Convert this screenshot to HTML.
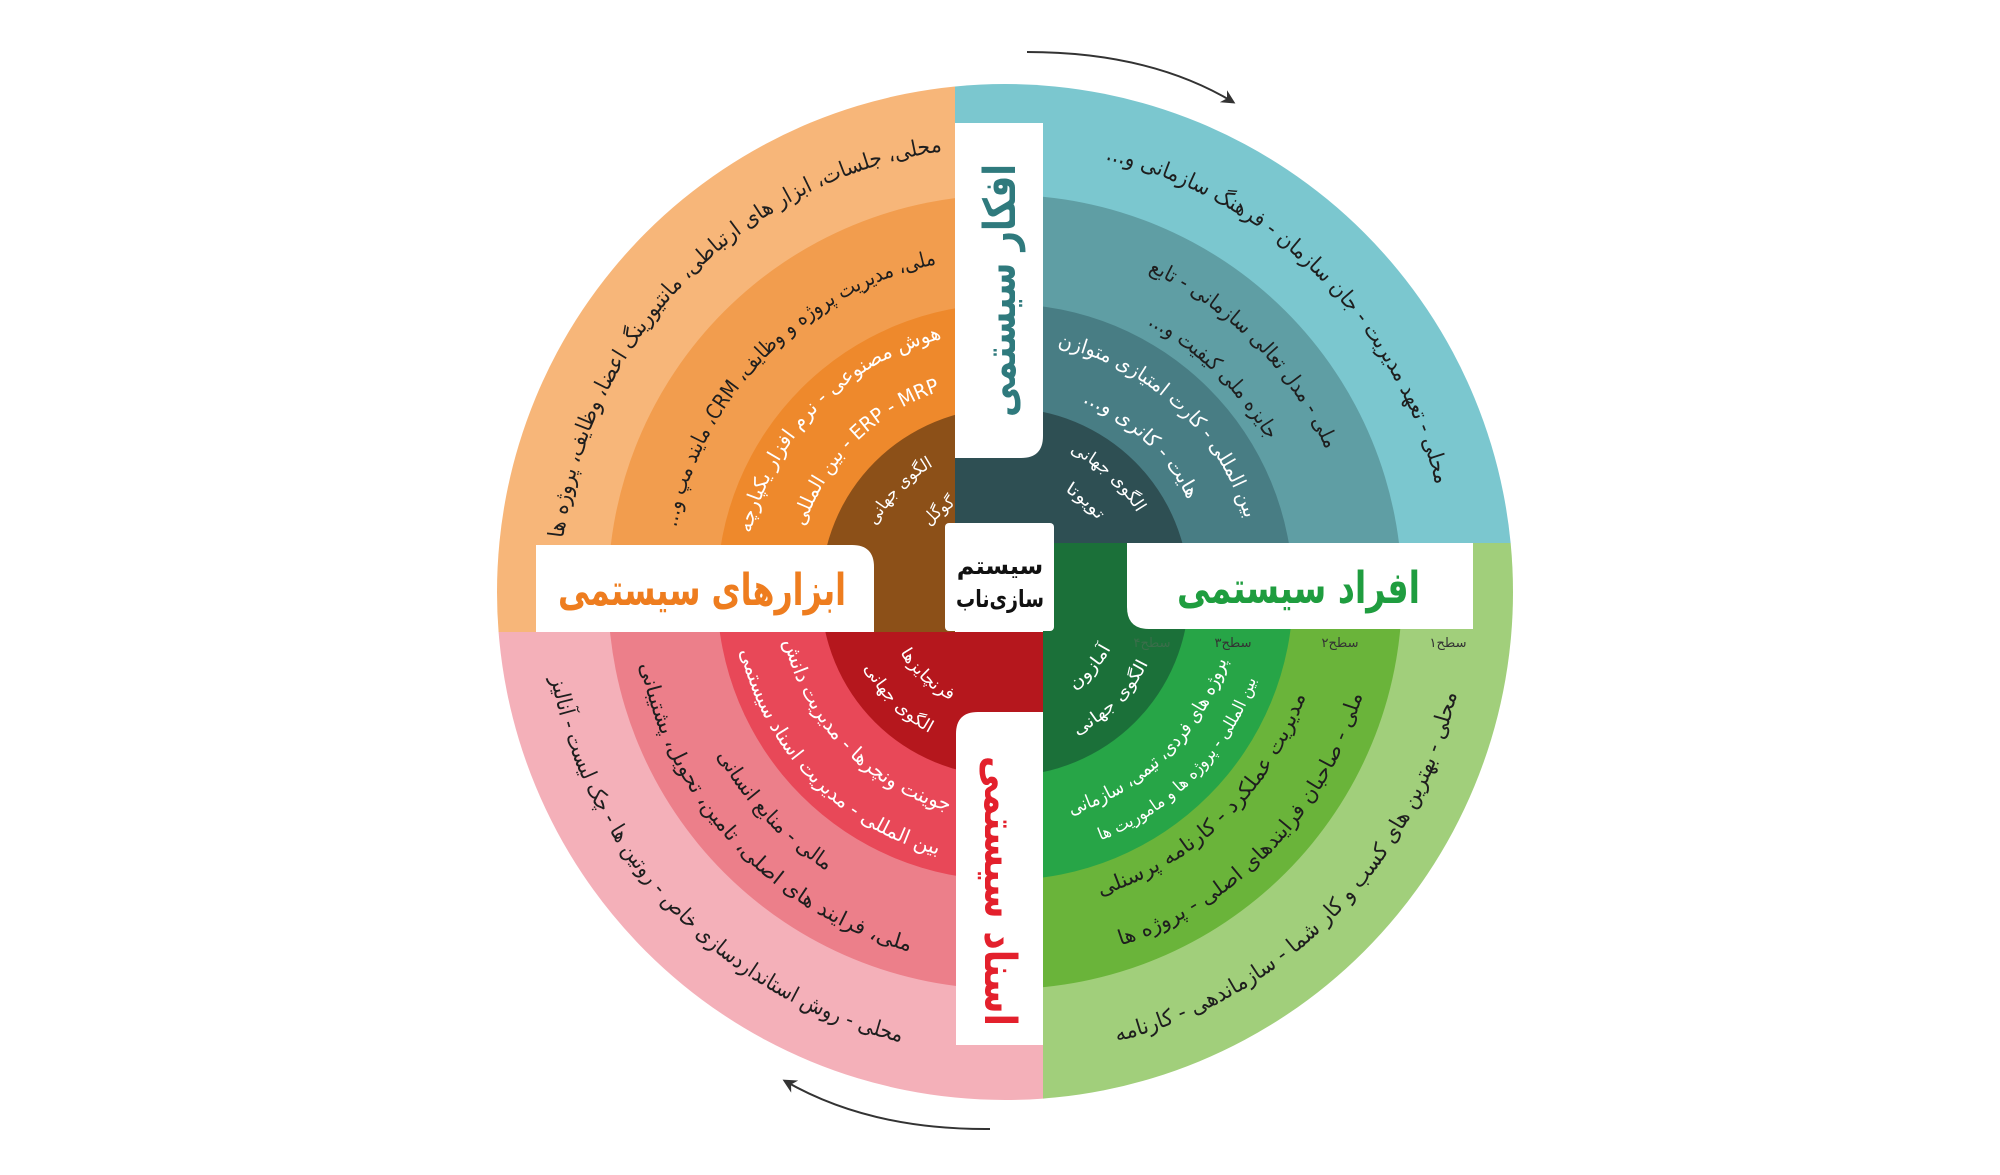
<!DOCTYPE html>
<html><head><meta charset="utf-8"><style>
html,body{margin:0;padding:0;background:#fff;}
svg{display:block;}
text{font-family:"DejaVu Sans","Liberation Sans",sans-serif;}
.dk{fill:#1e1e1e;}
.wt{fill:#fff;}
</style></head><body>
<svg width="2000" height="1175" viewBox="0 0 2000 1175" xmlns="http://www.w3.org/2000/svg">
<defs>
<clipPath id="cTL"><rect x="0" y="0" width="955" height="632"/></clipPath>
<clipPath id="cTR"><rect x="955" y="0" width="1045" height="543"/></clipPath>
<clipPath id="cBR"><rect x="1043" y="543" width="957" height="632"/></clipPath>
<clipPath id="cBL"><rect x="0" y="632" width="1043" height="543"/></clipPath>
<marker id="ah" viewBox="0 0 10 10" refX="8" refY="5" markerWidth="7" markerHeight="7" orient="auto"><path d="M0,0 L10,5 L0,10 L3,5 z" fill="#333"/></marker>
<path id="t1" d="M1450,592 A445,445 0 1 1 560,592 A445,445 0 1 1 1450,592"/>
<path id="t2" d="M1340,592 A335,335 0 1 1 670,592 A335,335 0 1 1 1340,592"/>
<path id="t3" d="M1266,592 A261,261 0 1 1 744,592 A261,261 0 1 1 1266,592"/>
<path id="t4" d="M1216,592 A211,211 0 1 1 794,592 A211,211 0 1 1 1216,592"/>
<path id="t5" d="M1150,592 A145,145 0 1 1 860,592 A145,145 0 1 1 1150,592"/>
<path id="t6" d="M1105,592 A100,100 0 1 1 905,592 A100,100 0 1 1 1105,592"/>
<path id="t7" d="M1449,592 A444,444 0 1 1 561,592 A444,444 0 1 1 1449,592"/>
<path id="t8" d="M1356,592 A351,351 0 1 1 654,592 A351,351 0 1 1 1356,592"/>
<path id="t9" d="M1308,592 A303,303 0 1 1 702,592 A303,303 0 1 1 1308,592"/>
<path id="t10" d="M1256,592 A251,251 0 1 1 754,592 A251,251 0 1 1 1256,592"/>
<path id="t11" d="M1210,592 A205,205 0 1 1 800,592 A205,205 0 1 1 1210,592"/>
<path id="t12" d="M1159,592 A154,154 0 1 1 851,592 A154,154 0 1 1 1159,592"/>
<path id="t13" d="M1122,592 A117,117 0 1 1 888,592 A117,117 0 1 1 1122,592"/>
<path id="b14" d="M1468,592 A463,463 0 1 0 542,592 A463,463 0 1 0 1468,592"/>
<path id="b15" d="M1377,592 A372,372 0 1 0 633,592 A372,372 0 1 0 1377,592"/>
<path id="b16" d="M1323,592 A318,318 0 1 0 687,592 A318,318 0 1 0 1323,592"/>
<path id="b17" d="M1271,592 A266,266 0 1 0 739,592 A266,266 0 1 0 1271,592"/>
<path id="b18" d="M1237,592 A232,232 0 1 0 773,592 A232,232 0 1 0 1237,592"/>
<path id="b19" d="M1165,592 A160,160 0 1 0 845,592 A160,160 0 1 0 1165,592"/>
<path id="b20" d="M1125,592 A120,120 0 1 0 885,592 A120,120 0 1 0 1125,592"/>
<path id="b21" d="M1467,592 A462,462 0 1 0 543,592 A462,462 0 1 0 1467,592"/>
<path id="b23" d="M1336,592 A331,331 0 1 0 674,592 A331,331 0 1 0 1336,592"/>
<path id="b24" d="M1276,592 A271,271 0 1 0 734,592 A271,271 0 1 0 1276,592"/>
<path id="b25" d="M1231,592 A226,226 0 1 0 779,592 A226,226 0 1 0 1231,592"/>
<path id="b27" d="M1126,592 A121,121 0 1 0 884,592 A121,121 0 1 0 1126,592"/>
</defs>

<path d="M1027,52 Q1150,52 1233,102" fill="none" stroke="#333" stroke-width="2" marker-end="url(#ah)"/>
<path d="M990,1129 Q870,1130 785,1081" fill="none" stroke="#333" stroke-width="2" marker-end="url(#ah)"/>

<g clip-path="url(#cTL)">
<circle cx="1005" cy="592" r="508" fill="#f7b679"/>
<circle cx="1005" cy="592" r="397" fill="#f29d4e"/>
<circle cx="1005" cy="592" r="288" fill="#ee892c"/>
<circle cx="1005" cy="592" r="184" fill="#8c5018"/>
</g>
<g clip-path="url(#cTR)">
<circle cx="1005" cy="592" r="508" fill="#7bc7cf"/>
<circle cx="1005" cy="592" r="397" fill="#5f9ea4"/>
<circle cx="1005" cy="592" r="288" fill="#487d84"/>
<circle cx="1005" cy="592" r="184" fill="#2e4f53"/>
</g>
<g clip-path="url(#cBR)">
<circle cx="1005" cy="592" r="508" fill="#a1cf7b"/>
<circle cx="1005" cy="592" r="397" fill="#6ab43a"/>
<circle cx="1005" cy="592" r="288" fill="#27a547"/>
<circle cx="1005" cy="592" r="184" fill="#1b7039"/>
</g>
<g clip-path="url(#cBL)">
<circle cx="1005" cy="592" r="508" fill="#f4b0b9"/>
<circle cx="1005" cy="592" r="397" fill="#ec7f8a"/>
<circle cx="1005" cy="592" r="288" fill="#e84858"/>
<circle cx="1005" cy="592" r="184" fill="#b5171d"/>
</g>

<path d="M955,123 H1043 V436 Q1043,458 1021,458 H955 Z" fill="#fff"/>
<path d="M1127,543 H1473 V629 H1149 Q1127,629 1127,607 Z" fill="#fff"/>
<path d="M536,545 H852 Q874,545 874,567 V632 H536 Z" fill="#fff"/>
<path d="M978,712 H1043 V1045 H956 V734 Q956,712 978,712 Z" fill="#fff"/>
<rect x="945" y="523" width="109" height="108" rx="4" fill="#fff"/>

<text x="1000" y="574" text-anchor="middle" font-size="24" font-weight="bold" fill="#111">سیستم</text>
<text x="1000" y="607" text-anchor="middle" font-size="24" font-weight="bold" fill="#111" textLength="88" lengthAdjust="spacingAndGlyphs">سازی‌ناب</text>

<text x="1177" y="603" font-size="44" font-weight="bold" fill="#1f9d3f" textLength="243" lengthAdjust="spacingAndGlyphs">افراد سیستمی</text>
<text x="558" y="605" font-size="44" font-weight="bold" fill="#ee7d1f" textLength="288" lengthAdjust="spacingAndGlyphs">ابزارهای سیستمی</text>
<text transform="translate(1015,417) rotate(-90)" x="0" y="0" font-size="44" font-weight="bold" fill="#2f7a7d" textLength="253" lengthAdjust="spacingAndGlyphs">افکار سیستمی</text>
<text transform="translate(985,756) rotate(90)" x="0" y="0" font-size="44" font-weight="bold" fill="#e3202c" textLength="270" lengthAdjust="spacingAndGlyphs">اسناد سیستمی</text>

<g font-size="13" fill="#333" text-anchor="middle">
<text x="1448" y="647">سطح۱</text>
<text x="1340" y="647">سطح۲</text>
<text x="1233" y="647">سطح۳</text>
<text x="1152" y="647" fill="#3a6e4a">سطح۴</text>
</g>

<text class="dk" font-size="22"><textPath href="#t1" startOffset="1452" textLength="582" lengthAdjust="spacingAndGlyphs">&#x202B;محلی، جلسات، ابزار های ارتباطی، مانتیورینگ اعضا، وظایف، پروژه ها&#x202C;</textPath></text>
<text class="dk" font-size="21"><textPath href="#t2" startOffset="1117" textLength="392" lengthAdjust="spacingAndGlyphs">&#x202B;ملی، مدیریت پروژه و وظایف، CRM، مایند مپ و...&#x202C;</textPath></text>
<text class="wt" font-size="20"><textPath href="#t3" startOffset="879" textLength="287" lengthAdjust="spacingAndGlyphs">&#x202B;هوش مصنوعی - نرم افزار یکپارچه&#x202C;</textPath></text>
<text class="wt" font-size="20"><textPath href="#t4" startOffset="729" textLength="199" lengthAdjust="spacingAndGlyphs">بین المللی - ERP - MRP</textPath></text>
<text class="wt" font-size="17"><textPath href="#t5" startOffset="524" textLength="84" lengthAdjust="spacingAndGlyphs">الگوی جهانی</textPath></text>
<text class="wt" font-size="17"><textPath href="#t6" startOffset="385" textLength="34" lengthAdjust="spacingAndGlyphs">گوگل</textPath></text>

<text class="dk" font-size="22"><textPath href="#t7" startOffset="2193" textLength="488" lengthAdjust="spacingAndGlyphs">&#x202B;محلی - تعهد مدیریت - جان سازمان - فرهنگ سازمانی و...&#x202C;</textPath></text>
<text class="dk" font-size="21"><textPath href="#t8" startOffset="1801" textLength="257" lengthAdjust="spacingAndGlyphs">&#x202B;ملی - مدل تعالی سازمانی - تابع&#x202C;</textPath></text>
<text class="dk" font-size="21"><textPath href="#t9" startOffset="1576" textLength="169" lengthAdjust="spacingAndGlyphs">&#x202B;جایزه ملی کیفیت و...&#x202C;</textPath></text>
<text class="wt" font-size="20"><textPath href="#t10" startOffset="1235" textLength="267" lengthAdjust="spacingAndGlyphs">&#x202B;بین المللی - کارت امتیازی متوازن&#x202C;</textPath></text>
<text class="wt" font-size="20"><textPath href="#t11" startOffset="1045" textLength="147" lengthAdjust="spacingAndGlyphs">&#x202B;هایت - کانری و...&#x202C;</textPath></text>
<text class="wt" font-size="17"><textPath href="#t12" startOffset="792" textLength="92" lengthAdjust="spacingAndGlyphs">الگوی جهانی</textPath></text>
<text class="wt" font-size="17"><textPath href="#t13" startOffset="614" textLength="44" lengthAdjust="spacingAndGlyphs">تویوتا</textPath></text>

<text class="dk" font-size="22"><textPath href="#b14" startOffset="2295" textLength="512" lengthAdjust="spacingAndGlyphs">&#x202B;محلی - بهترین های کسب و کار شما - سازماندهی - کارنامه&#x202C;</textPath></text>
<text class="dk" font-size="21"><textPath href="#b15" startOffset="1870" textLength="362" lengthAdjust="spacingAndGlyphs">&#x202B;ملی - صاحبان فرایندهای اصلی - پروژه ها&#x202C;</textPath></text>
<text class="dk" font-size="21"><textPath href="#b16" startOffset="1595" textLength="297" lengthAdjust="spacingAndGlyphs">&#x202B;مدیریت عملکرد - کارنامه پرسنلی&#x202C;</textPath></text>
<text class="wt" font-size="17"><textPath href="#b17" startOffset="1351" textLength="231" lengthAdjust="spacingAndGlyphs">&#x202B;بین المللی - پروژه ها و ماموریت ها&#x202C;</textPath></text>
<text class="wt" font-size="19"><textPath href="#b18" startOffset="1160" textLength="228" lengthAdjust="spacingAndGlyphs">&#x202B;پروژه های فردی، تیمی، سازمانی&#x202C;</textPath></text>
<text class="wt" font-size="17"><textPath href="#b19" startOffset="828" textLength="103" lengthAdjust="spacingAndGlyphs">الگوی جهانی</textPath></text>
<text class="wt" font-size="17"><textPath href="#b20" startOffset="639" textLength="56" lengthAdjust="spacingAndGlyphs">آمازون</textPath></text>

<text class="dk" font-size="22"><textPath href="#b21" startOffset="1538" textLength="534" lengthAdjust="spacingAndGlyphs">&#x202B;محلی - روش استانداردسازی خاص - روتین ها - چک لیست - آنالیز&#x202C;</textPath></text>
<text class="dk" font-size="21"><textPath href="#b15" startOffset="1241" textLength="415" lengthAdjust="spacingAndGlyphs">&#x202B;ملی، فرایند های اصلی، تامین، تحویل، پشتیبانی&#x202C;</textPath></text>
<text class="dk" font-size="21"><textPath href="#b23" startOffset="1210" textLength="161" lengthAdjust="spacingAndGlyphs">&#x202B;مالی - منابع انسانی&#x202C;</textPath></text>
<text class="wt" font-size="20"><textPath href="#b24" startOffset="910" textLength="299" lengthAdjust="spacingAndGlyphs">&#x202B;بین المللی - مدیریت اسناد سیستمی&#x202C;</textPath></text>
<text class="wt" font-size="20"><textPath href="#b25" startOffset="759" textLength="249" lengthAdjust="spacingAndGlyphs">&#x202B;جوینت ونچرها - مدیریت دانش&#x202C;</textPath></text>
<text class="wt" font-size="17"><textPath href="#b19" startOffset="581" textLength="94" lengthAdjust="spacingAndGlyphs">الگوی جهانی</textPath></text>
<text class="wt" font-size="17"><textPath href="#b27" startOffset="443" textLength="71" lengthAdjust="spacingAndGlyphs">فرنچایزها</textPath></text>
</svg>
</body></html>
